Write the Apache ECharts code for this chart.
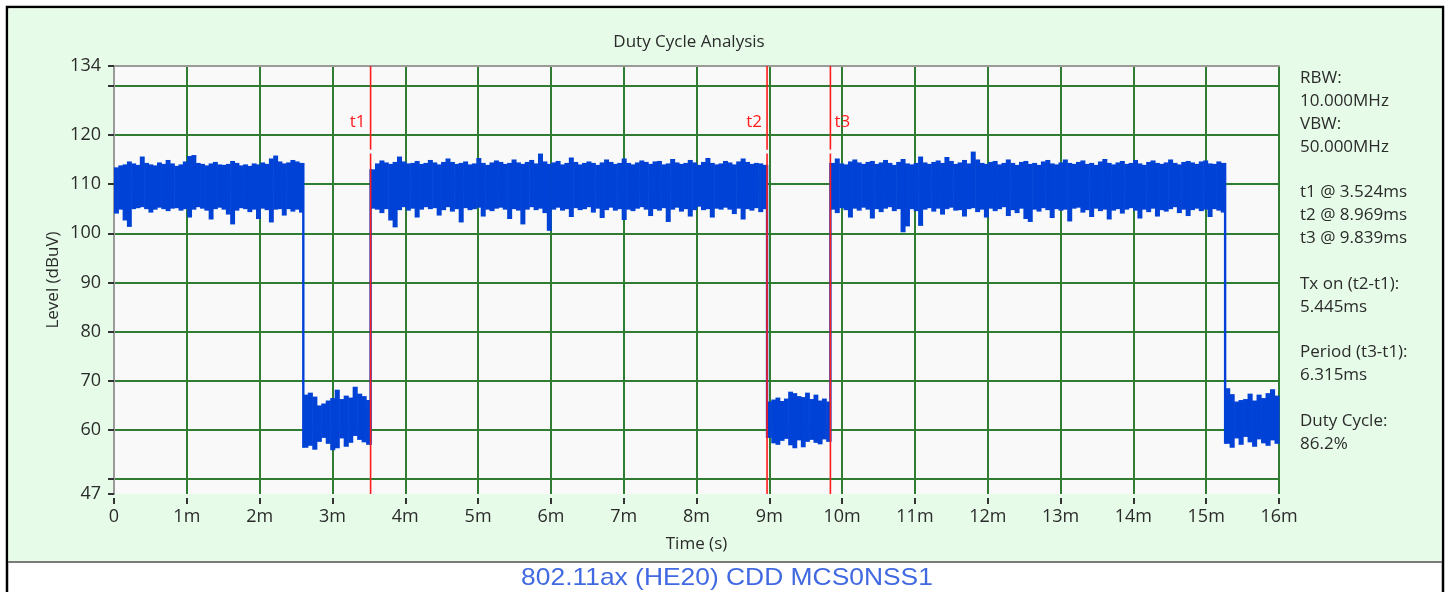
<!DOCTYPE html>
<html><head><meta charset="utf-8">
<script src="https://cdn.jsdelivr.net/npm/echarts@6/dist/echarts.min.js"></script>
<style>html,body{margin:0;padding:0;background:#fff;}#c{width:1450px;height:592px;}</style>
</head><body><div id="c"></div>
<script>
// ---------- data ----------
const chartTitle = 'Duty Cycle Analysis';
const caption = '802.11ax (HE20) CDD MCS0NSS1';
const xName = 'Time (s)';
const yName = 'Level (dBuV)';
const xMin = 0, xMax = 16;
const yMin = 47, yMax = 134;
const xTickLabels = ['0','1m','2m','3m','4m','5m','6m','7m','8m','9m','10m','11m','12m','13m','14m','15m','16m'];
const yGridValues = [50, 60, 70, 80, 90, 100, 110, 120, 130];
const yTickValues = [47, 50, 60, 70, 80, 90, 100, 110, 120, 130, 134];
const yLabelValues = [47, 60, 70, 80, 90, 100, 110, 120, 134];

// trace segments (ms): high / low states with envelope (lower/upper) readings
const segStart = [0, 2.60, 3.524, 8.969, 9.839, 15.26];
const segEnd   = [2.60, 3.524, 8.969, 9.839, 15.26, 16];

const seg0Upper = [113.4,113.8,114.0,114.6,114.2,113.9,115.6,114.3,114.0,113.8,114.4,114.1,114.9,114.2,113.7,114.0,114.6,115.7,115.9,114.3,114.1,113.8,114.2,114.5,114.0,113.9,114.1,114.7,114.3,113.8,114.0,113.7,114.2,114.0,114.4,114.1,115.2,115.8,114.6,114.2,114.4,114.9,114.6,114.3];
const seg0Lower = [104.0,104.8,102.6,101.3,104.9,105.1,105.3,104.9,104.2,104.8,105.2,104.9,104.5,105.0,105.1,104.6,104.9,103.2,104.8,105.3,105.0,104.6,102.8,104.9,105.2,104.8,103.8,101.8,104.6,105.1,104.9,104.3,104.8,102.9,105.0,104.7,102.2,104.8,104.9,103.6,104.9,104.4,104.8,104.2];

const seg1Upper = [67.2,67.6,66.8,65.0,65.4,66.0,66.5,68.2,66.3,67.0,66.6,68.8,67.4,66.9,66.1];
const seg1Lower = [56.4,56.8,56.0,57.6,58.4,57.2,55.9,56.3,58.3,56.6,57.4,58.8,58.0,57.5,57.0];

const seg2Upper = [113.0,114.2,114.8,114.4,114.1,114.5,115.6,114.6,114.2,114.3,114.7,114.1,114.3,114.9,114.4,114.0,114.5,115.2,114.5,114.1,114.3,114.6,114.0,114.2,115.3,114.3,113.9,114.4,114.8,114.5,114.1,114.3,115.0,114.4,114.1,114.5,114.9,114.2,116.2,114.6,114.1,114.4,114.7,114.0,114.3,115.4,114.5,114.0,114.3,114.6,114.3,113.9,114.4,115.0,114.5,114.1,114.3,115.2,114.3,114.0,114.4,114.8,114.5,114.1,114.6,114.7,114.0,114.2,115.1,114.4,114.1,114.3,114.9,114.4,113.9,114.5,115.3,114.3,114.0,114.2,114.7,114.4,114.0,114.6,115.2,114.5,114.1,114.3,114.2,113.9];
const seg2Lower = [105.0,104.8,104.1,104.9,102.6,101.2,104.7,105.3,104.6,105.0,103.2,104.8,105.3,104.9,105.1,103.6,104.7,105.3,104.4,104.9,102.2,105.1,104.7,104.9,105.2,103.4,104.8,104.5,105.0,105.2,104.8,102.9,104.9,104.6,101.8,104.8,105.3,104.7,105.0,104.1,100.5,104.8,105.2,104.6,104.9,103.3,105.1,104.7,104.9,105.3,104.2,105.0,103.1,104.7,105.2,104.6,104.9,102.7,104.8,104.5,105.0,105.3,104.8,103.5,104.9,104.6,105.1,102.3,104.8,105.2,104.4,104.9,103.4,104.7,105.4,104.7,104.9,103.2,105.0,104.8,105.2,104.8,103.9,105.0,102.8,104.9,104.6,105.1,104.3,104.9];

const seg3Upper = [65.8,66.2,66.6,65.9,66.4,67.8,67.5,66.9,66.7,67.6,66.3,67.2,66.0,66.4,65.8];
const seg3Lower = [58.4,57.3,57.0,57.8,58.2,56.9,56.3,57.9,56.5,57.6,58.0,57.4,57.1,58.1,57.6];

const seg4Upper = [114.3,115.2,114.2,114.0,114.6,115.0,114.4,114.1,114.5,114.7,114.1,114.4,114.9,114.3,113.9,114.5,115.1,114.2,114.0,114.3,115.6,114.4,114.1,114.5,114.8,114.3,115.5,114.7,114.1,114.4,114.9,114.2,116.6,115.0,114.3,114.1,114.5,114.7,114.0,114.3,115.0,114.3,113.9,114.5,114.7,114.1,114.3,113.9,114.6,114.9,114.2,114.0,114.4,115.0,114.3,114.1,114.5,114.8,114.1,114.3,113.9,114.6,115.1,114.3,114.0,114.4,114.7,114.1,114.3,114.9,114.2,113.9,114.5,114.8,114.3,114.1,114.4,115.0,114.3,114.0,114.5,114.7,114.4,114.1,114.6,114.8,114.2,114.1,114.6,114.3];
const seg4Lower = [104.8,104.1,105.1,104.7,103.2,105.0,104.6,105.2,104.8,103.0,104.9,104.3,105.0,105.3,104.5,104.9,100.2,101.4,104.9,104.5,101.5,104.8,105.1,104.4,105.0,103.8,104.9,105.2,104.6,104.7,103.4,104.9,105.1,104.3,104.8,103.2,105.0,104.5,104.9,105.3,103.5,104.7,104.1,105.0,102.9,102.3,104.8,104.4,105.1,104.7,103.1,104.9,104.6,104.8,102.4,105.0,105.2,104.2,104.7,103.3,105.0,104.5,104.8,102.8,104.6,104.9,104.0,104.8,105.1,104.6,103.0,104.8,104.3,105.0,103.4,104.7,104.4,104.9,105.3,104.1,104.8,103.5,104.7,105.0,104.5,104.8,103.3,104.9,104.6,104.2];

const seg5Upper = [68.5,67.3,65.8,66.1,66.3,67.4,66.0,67.2,66.5,67.5,68.3,67.0];
const seg5Lower = [57.2,56.4,58.3,57.0,58.6,57.5,56.6,58.1,57.3,56.8,57.9,57.2];

// markers
const markerNames = ['t1', 't2', 't3'];
const markerTimes = [3.524, 8.969, 9.839];
const markerSide = ['left', 'left', 'right'];
const markerLabelLevel = 122.6;

// info panel text
const infoLines = ['RBW:', '10.000MHz', 'VBW:', '50.000MHz', '', 't1 @ 3.524ms', 't2 @ 8.969ms', 't3 @ 9.839ms', '', 'Tx on (t2-t1):', '5.445ms', '', 'Period (t3-t1):', '6.315ms', '', 'Duty Cycle:', '86.2%'];

// ---------- build ----------
const segUpper = [seg0Upper, seg1Upper, seg2Upper, seg3Upper, seg4Upper, seg5Upper];
const segLower = [seg0Lower, seg1Lower, seg2Lower, seg3Lower, seg4Lower, seg5Lower];
const traceData = [];
for (let s = 0; s < segStart.length; s++) {
  const up = segUpper[s], lo = segLower[s];
  const n = up.length, dt = (segEnd[s] - segStart[s]) / n;
  for (let k = 0; k < n; k++) {
    traceData.push([segStart[s] + k * dt, segStart[s] + (k + 1) * dt, lo[k], up[k], 0]);
  }
  if (s > 0) {
    const pu = segUpper[s - 1], pl = segLower[s - 1];
    const a = Math.min(pl[pl.length - 1], lo[0]);
    const b = Math.max(pu[pu.length - 1], up[0]);
    traceData.push([segStart[s], segStart[s], a, b, 1]);
  }
}

const FONT = '"Open Sans", "Noto Sans", sans-serif';
const TXT = '#2b2b2b';
const GRID_GREEN = '#2e7d32';
const RED = '#ff1c1c';

const chart = echarts.init(document.getElementById('c'), null, {renderer: 'canvas'});
chart.setOption({
  backgroundColor: '#ffffff',
  animation: false,
  textStyle: {fontFamily: FONT},
  grid: {left: 114, right: 171, top: 66, bottom: 98, show: true, backgroundColor: '#f9f9f9', borderWidth: 0, containLabel: false, outerBoundsMode: 'none'},
  graphic: [
    {type: 'rect', z: -100, silent: true, shape: {x: 7, y: 7, width: 1436, height: 700}, style: {fill: '#ffffff', stroke: '#000', lineWidth: 2.5}},
    {type: 'rect', z: -99, silent: true, shape: {x: 8.5, y: 8.5, width: 1433, height: 553}, style: {fill: '#e6fce8'}},
    {type: 'line', z: -98, silent: true, shape: {x1: 8, y1: 562, x2: 1442, y2: 562}, style: {stroke: '#7a7a7a', lineWidth: 2}},
    {type: 'text', z: 100, x: 689, y: 42, style: {text: chartTitle, font: '17px ' + FONT, fill: TXT, textAlign: 'center', textVerticalAlign: 'middle'}},
    {type: 'text', z: 100, x: 1300, y: 66.9, style: {text: infoLines.join('\n'), font: '17px ' + FONT, lineHeight: 22.86, fill: TXT, textAlign: 'left', textVerticalAlign: 'top'}},
    {type: 'text', z: 100, x: 727, y: 578, scaleX: 1.1, style: {text: caption, font: '24px "Liberation Sans", Arial, sans-serif', fill: '#4169e1', textAlign: 'center', textVerticalAlign: 'middle'}}
  ],
  xAxis: [
    {type: 'value', min: xMin, max: xMax, interval: 1, position: 'bottom', offset: 4,
     name: xName, nameLocation: 'middle', nameGap: 38, nameTextStyle: {fontSize: 17, color: TXT, fontFamily: FONT},
     axisLine: {show: false}, axisTick: {show: true, length: 6, lineStyle: {color: '#333', width: 2}},
     axisLabel: {color: TXT, fontSize: 18, fontFamily: FONT, margin: 10, showMinLabel: true, showMaxLabel: true, formatter: v => xTickLabels[Math.round(v)]},
     splitLine: {show: true, lineStyle: {color: GRID_GREEN, width: 2}}},
    {type: 'value', min: xMin, max: xMax, position: 'top',
     axisLine: {show: true, onZero: false, lineStyle: {color: '#9a9a9a', width: 2}}, axisTick: {show: false}, axisLabel: {show: false}, splitLine: {show: false}}
  ],
  yAxis: [
    {type: 'value', min: yMin, max: yMax, position: 'left',
     name: yName, nameLocation: 'middle', nameGap: 52, nameTextStyle: {fontSize: 17, color: TXT, fontFamily: FONT},
     axisLine: {show: true, onZero: false, lineStyle: {color: '#9a9a9a', width: 2}},
     axisTick: {show: false, customValues: yGridValues},
     axisLabel: {show: false, customValues: yGridValues},
     splitLine: {show: true, lineStyle: {color: GRID_GREEN, width: 2}}},
    {type: 'value', min: yMin, max: yMax, position: 'left', offset: 3,
     axisLine: {show: false}, splitLine: {show: false},
     axisTick: {show: true, length: 6, customValues: yTickValues, lineStyle: {color: '#333', width: 2}},
     axisLabel: {show: true, customValues: yLabelValues, color: TXT, fontSize: 18, fontFamily: FONT, margin: 10}}
  ],
  series: [
    {type: 'custom', name: 'trace', xAxisIndex: 0, yAxisIndex: 0, z: 5, silent: true,
     encode: {x: [0, 1], y: [2, 3]},
     data: traceData,
     renderItem: function (params, api) {
       const t0 = api.value(0), t1 = api.value(1), lo = api.value(2), hi = api.value(3), edge = api.value(4);
       const pTop = api.coord([t0, hi]);
       const pBot = api.coord([t1, lo]);
       let x = pTop[0], w = pBot[0] - pTop[0] + 0.6;
       if (edge) { x = pTop[0] - 1.2; w = 2.4; }
       return {type: 'rect', shape: {x: x, y: pTop[1], width: w, height: pBot[1] - pTop[1]}, style: {fill: '#0041d6'}};
     }},
    {type: 'custom', name: 'markers', xAxisIndex: 0, yAxisIndex: 0, z: 10, silent: true,
     encode: {x: 0},
     data: markerTimes.map(t => [t]),
     renderItem: function (params, api) {
       const i = params.dataIndex;
       const t = api.value(0);
       const top = api.coord([t, yMax]);
       const bot = api.coord([t, yMin]);
       const g1 = api.coord([t, 117.0]);
       const g0 = api.coord([t, 116.2]);
       const lab = api.coord([t, markerLabelLevel]);
       const left = markerSide[i] === 'left';
       return {type: 'group', children: [
         {type: 'line', shape: {x1: top[0], y1: top[1], x2: g1[0], y2: g1[1]}, style: {stroke: RED, lineWidth: 1.6}},
         {type: 'line', shape: {x1: g0[0], y1: g0[1], x2: bot[0], y2: bot[1]}, style: {stroke: RED, lineWidth: 1.6}},
         {type: 'text', x: lab[0] + (left ? -5 : 4), y: lab[1], style: {text: markerNames[i], fill: RED, font: '17px ' + FONT, align: left ? 'right' : 'left', verticalAlign: 'middle', textAlign: left ? 'right' : 'left', textVerticalAlign: 'middle'}}
       ]};
     }}
  ]
});
</script></body></html>
